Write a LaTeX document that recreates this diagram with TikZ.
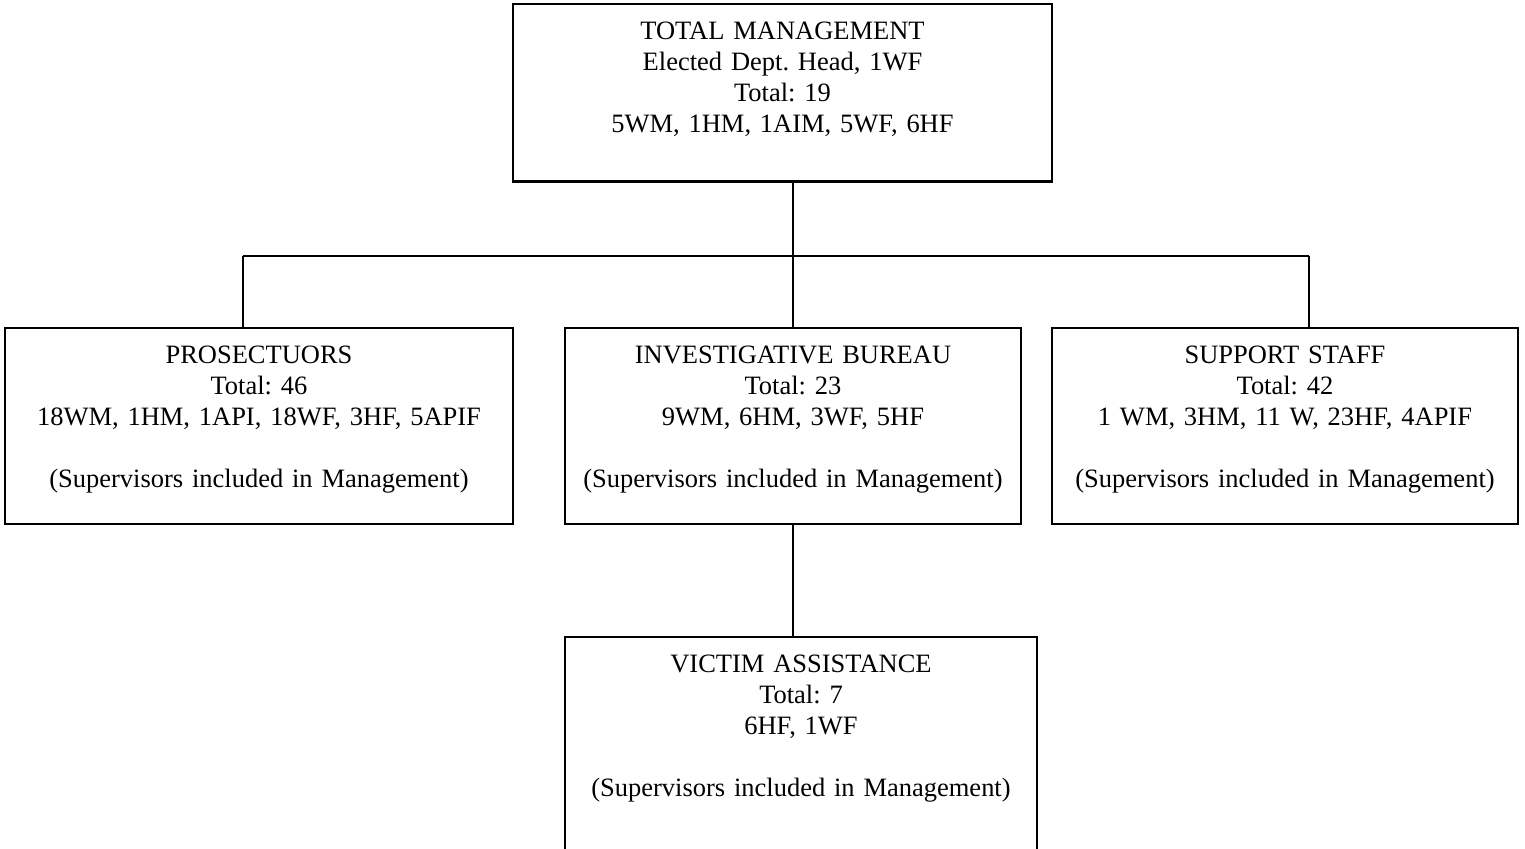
\documentclass[tikz,border=0pt]{standalone}
\usepackage{fontspec}
\setmainfont{Liberation Serif}
\usepackage{tikz}
\frenchspacing

\begin{document}
\begin{tikzpicture}[x=0.453pt, y=-0.453pt,
	orgbox/.style={draw, line width=1.3pt, anchor=north, align=center, inner xsep=0pt, inner ysep=0pt, outer sep=0pt, text height=16.2pt, font=\fontsize{12pt}{14pt}\selectfont},
	link/.style={line width=0.9pt}]
	\useasboundingbox (0,0) rectangle (1525,849);
	\node[orgbox, text width=244.2pt, text depth=64.4pt] (mgmt) at (782.5,4) {TOTAL MANAGEMENT\\Elected Dept. Head, 1WF\\Total: 19\\5WM, 1HM, 1AIM, 5WF, 6HF};
	\node[orgbox, text width=230.1pt, text depth=72.6pt] (pros) at (259,328) {PROSECTUORS\\Total: 46\\18WM, 1HM, 1API, 18WF, 3HF, 5APIF\\[14pt](Supervisors included in Management)};
	\node[orgbox, text width=206.6pt, text depth=72.6pt] (invest) at (793,328) {INVESTIGATIVE BUREAU\\Total: 23\\9WM, 6HM, 3WF, 5HF\\[14pt](Supervisors included in Management)};
	\node[orgbox, text width=211.1pt, text depth=72.6pt] (support) at (1285,328) {SUPPORT STAFF\\Total: 42\\1 WM, 3HM, 11 W, 23HF, 4APIF\\[14pt](Supervisors included in Management)};
	\node[orgbox, text width=213.8pt, text depth=88pt] (victim) at (801,637) {VICTIM ASSISTANCE\\Total: 7\\6HF, 1WF\\[14pt](Supervisors included in Management)};
	\coordinate (busL) at (243,256);
	\coordinate (busR) at (1309,256);
	\draw[link] (invest.north |- mgmt.south) -- (invest.north);
	\draw[link] (busL) -- (busR);
	\draw[link] (busL) -- (busL |- pros.north);
	\draw[link] (busR) -- (busR |- support.north);
	\draw[link] (invest.south) -- (invest.south |- victim.north);
\end{tikzpicture}
\end{document}
